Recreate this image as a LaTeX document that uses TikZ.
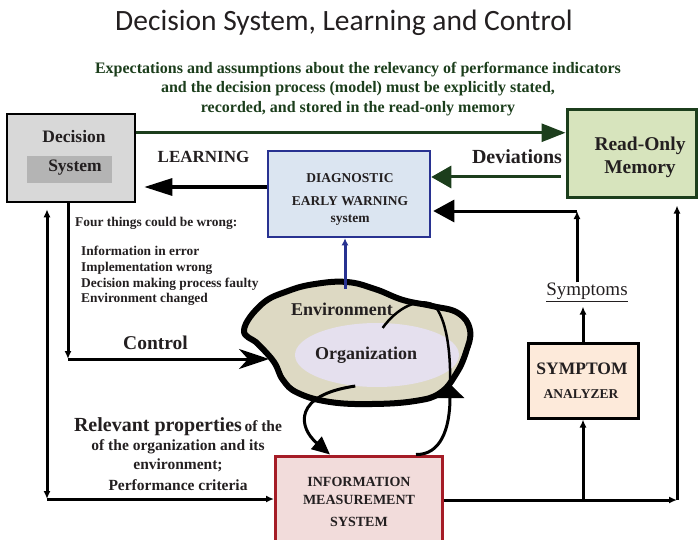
\documentclass[tikz,border=0pt]{standalone}
\usepackage{fontspec}
\setmainfont{Liberation Serif}
\newfontfamily\titlefont{Carlito}
\usepackage{xcolor}
\usetikzlibrary{arrows.meta,positioning,shapes.geometric}
\definecolor{dsgreen}{RGB}{28,62,28}
\definecolor{romfill}{RGB}{215,228,189}
\definecolor{decfill}{RGB}{216,216,216}
\definecolor{decinner}{RGB}{180,180,180}
\definecolor{diagfill}{RGB}{219,229,241}
\definecolor{diagblue}{RGB}{40,50,145}
\definecolor{envfill}{RGB}{221,217,195}
\definecolor{orgfill}{RGB}{229,224,238}
\definecolor{infofill}{RGB}{242,220,219}
\definecolor{infored}{RGB}{165,28,38}
\definecolor{symfill}{RGB}{253,234,218}
\definecolor{inkgray}{RGB}{35,31,32}
\newcommand{\boldsz}[2]{\bfseries\fontsize{#1}{#2}\selectfont}

\begin{document}
\begin{tikzpicture}[
    x=1pt, y=-1pt,
    box/.style={draw, rectangle, inner sep=0pt, align=center},
    txt/.style={text=inkgray, align=center, inner sep=0pt},
    garrow/.style={dsgreen, line width=3pt},
    karrow/.style={black, line width=3pt},
    small/.style={-{Latex[length=8pt,width=7pt]}}
]
\useasboundingbox (0,0) rectangle (698,540);

% Title and note
\node[txt, font=\titlefont\fontsize{29.5}{32}\selectfont] (title) at (344,23) {Decision System, Learning and Control};
\node[txt, text=dsgreen, font=\boldsz{16}{19.5}] (expect) at (358,89) {Expectations and assumptions about the relevancy of performance indicators\\and the decision process (model) must be explicitly stated,\\recorded, and stored in the read-only memory};

% Boxes
\node[box, line width=2.5pt, fill=decfill, minimum width=128pt, minimum height=88pt] (dec) at (71,158) {};
\node[box, draw=none, fill=decinner, minimum width=85pt, minimum height=27pt] (decin) at (69.5,169.5) {};
\node[txt, font=\boldsz{17.5}{20}] (dectop) at (74,137) {Decision};
\node[txt, font=\boldsz{17.5}{20}] (decbot) at (75,168) {System};

\node[box, draw=dsgreen, line width=3pt, fill=romfill, minimum width=129pt, minimum height=87pt] (rom) at (631.5,153.5) {};
\node[txt, font=\boldsz{19.5}{23}] (romtext) at (640,157) {Read-Only\\Memory};

\node[box, draw=diagblue, line width=2.5pt, fill=diagfill, minimum width=162pt, minimum height=86pt] (diag) at (349,194) {};
\node[txt, font=\boldsz{13.5}{17}] (diagtext) at (350,199) {DIAGNOSTIC\\[6pt]EARLY WARNING\\system};

\node[box, line width=3pt, fill=symfill, minimum width=110pt, minimum height=75pt] (sym) at (583,380.5) {};
\node[txt, font=\boldsz{17.5}{20}] (symtop) at (582,369) {SYMPTOM};
\node[txt, font=\boldsz{13.5}{16}] (symbot) at (581,394) {ANALYZER};

\node[box, draw=infored, line width=3pt, fill=infofill, minimum width=167pt, minimum height=88pt] (info) at (359,500) {};
\node[txt, font=\boldsz{14}{18}] (infotext) at (359,502) {INFORMATION\\MEASUREMENT\\[4pt]SYSTEM};

% Environment and organization
\draw[line width=6pt, fill=envfill, line join=round] plot[smooth cycle, tension=0.7] coordinates {
  (347,282) (375,289) (403,300) (432,306) (458,313) (470,330) (466,352) (456,374)
  (440,393) (415,401) (372,404) (330,402) (298,393) (283,380) (274,362) (258,344)
  (244,330) (262,304) (288,291) (315,284)};
\node[ellipse, fill=orgfill, minimum width=164pt, minimum height=64pt, inner sep=0pt] (org) at (377,355) {};
\node[txt, font=\boldsz{18}{20}] (orgtext) at (366,355) {Organization};
\node[txt, font=\boldsz{18}{20}] (env) at (342,309) {Environment};
\coordinate (envtop) at (345,289);
\coordinate (cloudwest) at (269,359);

% Loops through the organization
\draw[line width=2.5pt] ([yshift=-5pt]org.80) .. controls (397,308) and (418,297) .. (434,305) .. controls (446,318) and (451,350) .. (450,386);
\draw[line width=3pt, -{Triangle[length=14pt,width=28pt]}] ([xshift=-28pt]info.north east) .. controls (440,455) and (450,430) .. (450,384);
\draw[line width=3pt, -{Triangle[length=18pt,width=16pt]}] (org.235) .. controls (293,395) and (298,427) .. ([xshift=-29pt]info.north);

% Arrows - Green
\coordinate (exp) at ([yshift=-20pt]dec.north east);
\draw[garrow, -{Triangle[length=24pt,width=18pt]}] (exp) -- (exp -| rom.west);
\coordinate (dev) at ([yshift=-23.5pt]rom.west);
\draw[garrow, -{Triangle[length=20pt,width=22pt]}, shorten <=5pt] (dev) -- (dev -| diag.east);

% Arrows - Learning and diagnosis
\coordinate (learn) at ([yshift=7pt]diag.west);
\draw[karrow, -{Triangle[length=28pt,width=17pt]}, shorten >=8pt] (learn) -- (learn -| dec.east);
\draw[diagblue, line width=3pt, -{Latex[length=7pt,width=7pt]}] (envtop) -- (envtop |- diag.south);

% Arrows - Symptoms
\node[txt, font=\fontsize{19}{21}\selectfont] (symlabel) at (587,292) {\underline{Symptoms}};
\coordinate (symcorner) at (577,211);
\draw[karrow, small] (symcorner |- symlabel.north) -- (symcorner);
\draw[karrow, -{Triangle[length=21pt,width=22pt]}, shorten >=2pt] (symcorner) -- (symcorner -| diag.east);
\draw[karrow, small, shorten >=5pt] (sym.north) -- (sym.north |- symlabel.south);
\coordinate (br) at (677,500);
\draw[karrow, small] (info.east) -- (br);
\draw[karrow, small] (info.east -| sym.south) -- (sym.south);
\draw[karrow, small, shorten >=7pt] (br) -- (br |- rom.south);

% Arrows - Control and measurement
\coordinate (bl) at (47,499);
\draw[karrow, {Latex[length=8pt,width=7pt]}-{Latex[length=8pt,width=7pt]}, shorten >=6pt] (bl) -- (bl |- dec.south);
\draw[karrow, small] (bl) -- (bl -| info.west);
\coordinate (ctrl) at (68,359);
\draw[karrow, small] (dec.south -| ctrl) -- (ctrl);
\draw[karrow, -{Stealth[length=30pt,width=20pt,inset=9pt]}] (ctrl) -- (cloudwest);

% Labels
\node[txt, font=\boldsz{17}{20}] (learnlbl) at (203.5,157) {LEARNING};
\node[txt, font=\boldsz{20}{22}] (devlbl) at (517,157) {Deviations};
\node[txt, font=\boldsz{19.5}{22}] (ctrllbl) at (155.5,343) {Control};
\node[txt, font=\boldsz{13.4}{16}, anchor=west] (four) at (75,223) {Four things could be wrong:};
\node[txt, font=\boldsz{13.4}{15.7}, align=left, anchor=north west] (wrong) at (81,246) {Information in error\\Implementation wrong\\Decision making process faulty\\Environment changed};
\node[txt, font=\boldsz{15.5}{19}] (relprop) at (178,454) {{\fontsize{20}{22}\selectfont Relevant properties}\,of the\\of the organization and its\\environment;\\[2pt]Performance criteria};

\end{tikzpicture}
\end{document}
